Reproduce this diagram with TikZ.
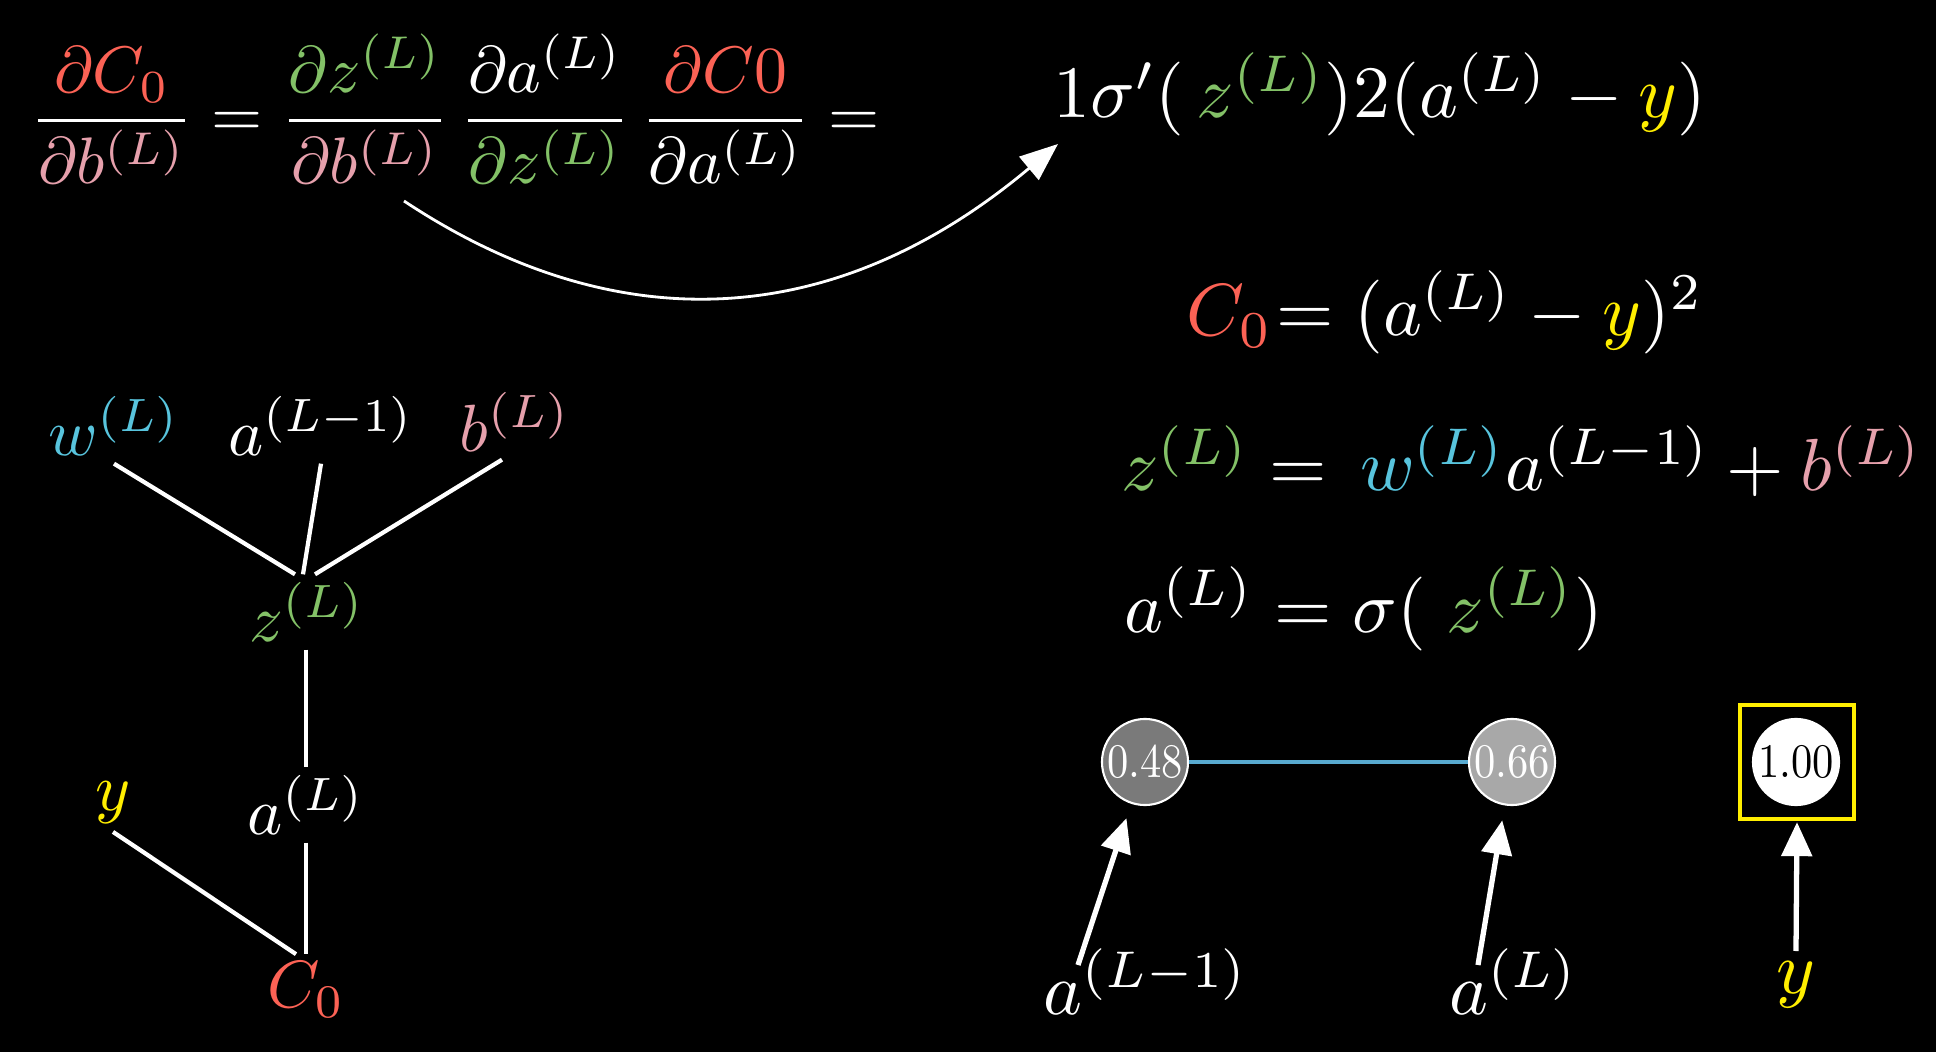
\documentclass[tikz,border=0pt]{standalone}
\usepackage{amsmath}
\usepackage{graphicx}
\usetikzlibrary{arrows.meta}
\definecolor{cred}{HTML}{FC6255}
\definecolor{cpink}{HTML}{E6A0AC}
\definecolor{cgreen}{HTML}{83C167}
\definecolor{cblue}{HTML}{58C4DD}
\definecolor{cline}{HTML}{58AAD0}
\definecolor{cyel}{HTML}{FFEE00}
\definecolor{gA}{gray}{0.48}
\definecolor{gB}{gray}{0.66}
\tikzset{
  txt/.style={text=white, inner sep=1pt},
  treelbl/.style={txt, scale=1.9},
  eqn/.style={txt, scale=2.1, anchor=base},
  lbl/.style={txt, scale=2.1},
  topeq/.style={txt, scale=1.87, anchor=base},
  treeedge/.style={white, line width=1.2pt},
  neuron/.style={circle, draw=white, line width=0.6pt, minimum size=0.86cm, inner sep=0pt},
  bigarrow/.style={white, line width=1.5pt, -{Triangle[length=0.34cm,width=0.3cm]}},
}
\begin{document}
\begin{tikzpicture}[x=0.01cm,y=-0.01cm]
\useasboundingbox (0,0) rectangle (1936,1052);
\fill[black] (0,0) rectangle (1936,1052);

% top chain rule
\node[topeq] (chain) at (455,137) {$\displaystyle
  \frac{\color{cred}\partial C_0}{\color{cpink}\partial b^{(L)}}
  =
  \frac{\color{cgreen}\partial z^{(L)}}{\color{cpink}\partial b^{(L)}}\,
  \frac{\partial a^{(L)}}{\color{cgreen}\partial z^{(L)}}\,
  \frac{\color{cred}\partial C0}{\partial a^{(L)}}
  =$};

\node[eqn] (expand) at (1380,118) {$1\sigma'(\,{\color{cgreen}z^{(L)}})2(a^{(L)} - {\color{cyel}y})$};

\coordinate (cs) at (404,201);
\coordinate (ce) at (1058,144);
\draw[white, line width=0.8pt, -{Triangle[length=0.38cm,width=0.3cm]}] (cs) .. controls (609,337) and (828,337) .. (ce);

% right equations
\node[eqn] (cost) at (1445,336) {${\color{cred}C_0}\mkern-4mu= (a^{(L)} - {\color{cyel}y})^2$};
\node[eqn] (zdef) at (1522,491) {${\color{cgreen}z^{(L)}} =\, {\color{cblue}w^{(L)}} a^{(L-1)} + {\color{cpink}b^{(L)}}$};
\node[eqn] (adef) at (1364,632) {$a^{(L)} = \sigma(\;{\color{cgreen}z^{(L)}})$};

% tree
\node[treelbl] (w) at (114,426) {$\color{cblue}w^{(L)}$};
\node[treelbl] (aLm1) at (321,426) {$a^{(L-1)}$};
\node[treelbl] (b) at (515,422) {$\color{cpink}b^{(L)}$};
\node[treelbl] (z) at (307,612) {$\color{cgreen}z^{(L)}$};
\node[treelbl] (aL) at (306,805) {$a^{(L)}$};
\node[treelbl] (y) at (113,803) {$\color{cyel}y$};
\node[treelbl] (C) at (306,990) {$\color{cred}C_0$};

\draw[treeedge] (w.south) -- ([xshift=-0.12cm]z.north);
\draw[treeedge] (aLm1.south) -- ([xshift=-0.04cm]z.north);
\draw[treeedge] ([xshift=-0.13cm]b.south) -- ([xshift=0.08cm]z.north);
\draw[treeedge] (aL.north |- z.south) -- (aL.north);
\draw[treeedge] (aL.south) -- (C.north);
\draw[treeedge] (y.south) -- ([xshift=-0.1cm]C.north);

% neurons
\node[neuron, fill=gA, text=white] (n1) at (1145,762) {\scalebox{1.21}[1.37]{0.48}};
\node[neuron, fill=gB, text=white] (n2) at (1512,762) {\scalebox{1.21}[1.37]{0.66}};
\node[neuron, fill=white, text=black] (n3) at (1796,762) {\scalebox{1.21}[1.37]{1.00}};
\node[draw=cyel, line width=1.2pt, minimum size=1.14cm, inner sep=0pt] (box) at (1797,762) {};
\draw[cline, line width=1pt] (n1) -- (n2);

\node[lbl] (l1) at (1146,982) {$a^{(L-1)}$};
\node[lbl] (l2) at (1514,982) {$a^{(L)}$};
\node[lbl] (l3) at (1796,985) {$\color{cyel}y$};

\coordinate (s1) at (1078,965);
\coordinate (s2) at (1478,965);
\coordinate (s3) at (1796,951);
\draw[bigarrow, shorten >=0.15cm] (s1) -- (n1);
\draw[bigarrow, shorten >=0.15cm] (s2) -- (n2);
\draw[bigarrow, shorten >=0.01cm] (s3) -- (box.south);
\end{tikzpicture}
\end{document}
